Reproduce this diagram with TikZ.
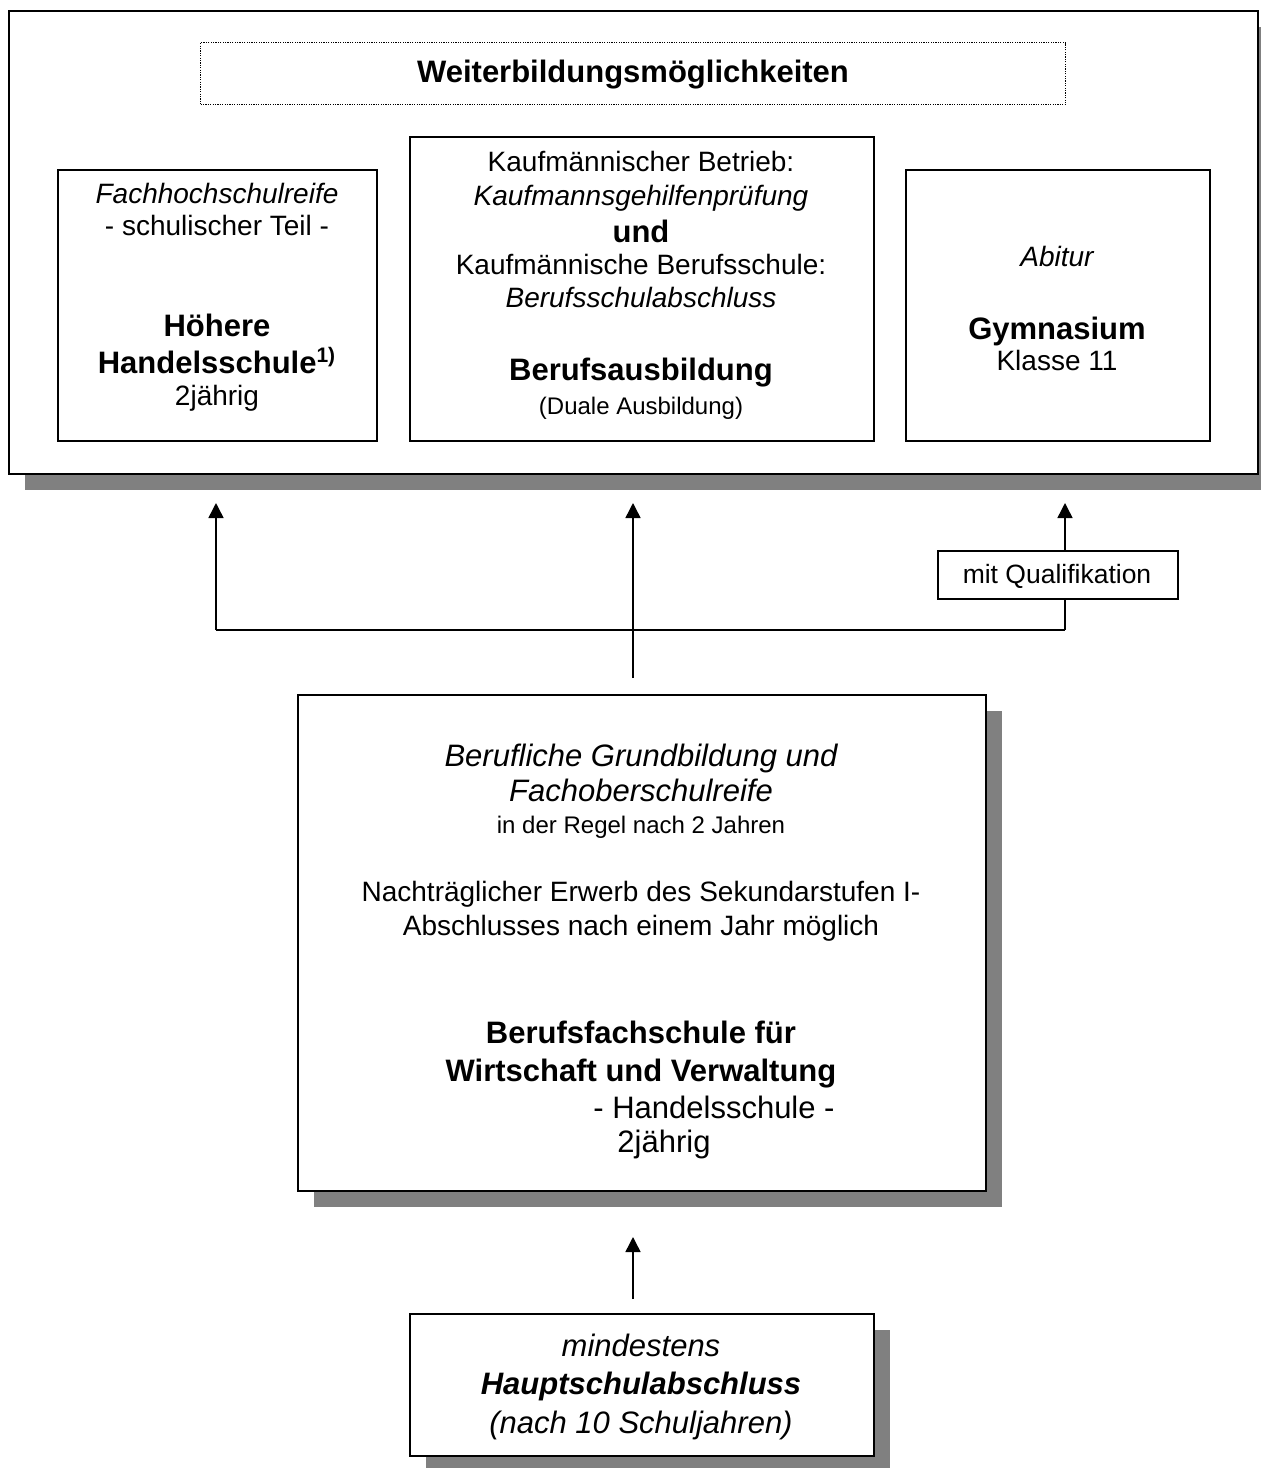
\documentclass[tikz,border=0pt]{standalone}
\usepackage{fontspec}
\setmainfont{Liberation Sans}
\usetikzlibrary{arrows.meta,shadows}
\definecolor{shadowc}{HTML}{808080}
\begin{document}
\begin{tikzpicture}[x=0.5pt,y=-0.5pt,
  box/.style={draw, line width=0.75pt, fill=white, inner sep=0pt, anchor=north west},
  shad/.style={drop shadow={shadow xshift=8pt, shadow yshift=-8pt, fill=shadowc, opacity=1}},
  ln/.style={inner sep=0pt, anchor=base},
  reg/.style={ln, font=\fontsize{14}{16}\selectfont},
  regi/.style={ln, font=\fontsize{14}{16}\selectfont\itshape},
  qtx/.style={ln, font=\fontsize{13.25}{15}\selectfont},
  big/.style={ln, font=\fontsize{15.5}{18}\selectfont},
  bigi/.style={ln, font=\fontsize{15.5}{18}\selectfont\itshape},
  bigb/.style={ln, font=\fontsize{15.5}{18}\selectfont\bfseries},
  sml/.style={ln, font=\fontsize{12}{14}\selectfont},
  arr/.style={line width=0.75pt, -{Triangle[length=7.5pt, width=7.5pt]}},
  con/.style={line width=0.75pt}]
\useasboundingbox (0,0) rectangle (1261,1468);
% outer box
\node[box, shad, minimum width=624.5pt, minimum height=231.5pt] (outer) at (8,10) {};
\node[box, draw=black, line width=0.5pt, dash pattern=on 0.6pt off 0.6pt, minimum width=432.5pt, minimum height=31pt] (title) at (200,42) {};
\node[bigb, anchor=center] (titletxt) at (633,75) {Weiterbildungsmöglichkeiten};
% three boxes
\node[box, minimum width=159.5pt, minimum height=135.5pt] (left) at (57,169) {};
\node[box, minimum width=232pt, minimum height=152pt] (mid) at (409,136) {};
\node[box, minimum width=152pt, minimum height=135.5pt] (right) at (905,169) {};
% left text
\node[regi] (l1) at (217,203) {Fachhochschulreife};
\node[reg] (l2) at (217,235) {- schulischer Teil -};
\node[bigb] (l3) at (217,336) {Höhere};
\node[bigb] (l4) at (217,373) {Handelsschule\textsuperscript{\fontsize{10.5}{12}\selectfont 1)}};
\node[reg] (l5) at (217,405) {2jährig};
% middle text
\node[reg] (m1) at (641,171) {Kaufmännischer Betrieb:};
\node[regi] (m2) at (641,205) {Kaufmannsgehilfenprüfung};
\node[bigb] (m3) at (641,242) {und};
\node[reg] (m4) at (641,274) {Kaufmännische Berufsschule:};
\node[regi] (m5) at (641,307) {Berufsschulabschluss};
\node[bigb] (m6) at (641,380) {Berufsausbildung};
\node[sml] (m7) at (641,414) {(Duale Ausbildung)};
% right text
\node[regi] (r1) at (1057,266) {Abitur};
\node[bigb] (r2) at (1057,339) {Gymnasium};
\node[reg] (r3) at (1057,370) {Klasse 11};
% qualification box
\node[box, minimum width=120pt, minimum height=24pt] (qual) at (937,550) {};
\node[qtx] (qtxt) at (1057,583) {mit Qualifikation};
% big middle box
\node[box, shad, minimum width=344pt, minimum height=248pt] (bfs) at (297,694) {};
\node[bigi] (b1) at (641,766) {Berufliche Grundbildung und};
\node[bigi] (b2) at (641,801) {Fachoberschulreife};
\node[sml] (b3) at (641,833) {in der Regel nach 2 Jahren};
\node[reg] (b4) at (641,901) {Nachträglicher Erwerb des Sekundarstufen I-};
\node[reg] (b5) at (641,935) {Abschlusses nach einem Jahr möglich};
\node[bigb] (b6) at (641,1043) {Berufsfachschule für};
\node[bigb] (b7) at (641,1081) {Wirtschaft und Verwaltung};
\node[big] (b8) at (714,1118) {- Handelsschule -};
\node[big] (b9) at (664,1152) {2jährig};
% bottom box
\node[box, shad, minimum width=232pt, minimum height=71pt] (haupt) at (409,1313) {};
\node[bigi] (h1) at (641,1356) {mindestens};
\node[bigb, font=\fontsize{15.5}{18}\selectfont\bfseries\itshape] (h2) at (641,1394) {Hauptschulabschluss};
\node[bigi] (h3) at (641,1433) {(nach 10 Schuljahren)};
% connectors
\coordinate (jl) at (216,630);
\coordinate (jr) at (1065,630);
\coordinate (tl) at (216,503);
\coordinate (tm) at (633,503);
\coordinate (tr) at (1065,503);
\coordinate (sm) at (633,678);
\coordinate (bs) at (633,1299);
\coordinate (bt) at (633,1237);
\draw[con] (jl) -- (jr);
\draw[arr] (jl) -- (tl);
\draw[arr] (sm) -- (tm);
\draw[con] (jr) -- (jr |- qual.south);
\draw[arr] (jr |- qual.north) -- (tr);
\draw[arr] (bs) -- (bt);
\end{tikzpicture}
\end{document}
